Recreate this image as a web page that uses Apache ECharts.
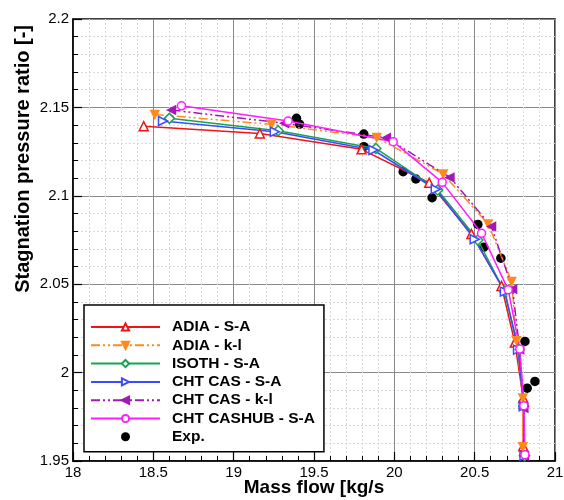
<!DOCTYPE html>
<html><head><meta charset="utf-8">
<script src="https://cdn.jsdelivr.net/npm/echarts@6/dist/echarts.min.js"></script>
<style>html,body{margin:0;padding:0;background:#fff}#c{width:564px;height:500px}</style>
</head><body><div id="c"></div>
<script>
// ---- data ----
const seriesNames = ['ADIA - S-A','ADIA - k-l','ISOTH - S-A','CHT CAS - S-A','CHT CAS - k-l','CHT CASHUB - S-A','Exp.'];
const adiaSA_m = [18.44, 19.163, 19.796, 20.217, 20.48, 20.667, 20.75, 20.802, 20.802];
const adiaSA_p = [2.1394, 2.1353, 2.1263, 2.1074, 2.0784, 2.049, 2.017, 1.9856, 1.9583];
const adiaKL_m = [18.509, 19.235, 19.89, 20.304, 20.584, 20.73, 20.76, 20.80, 20.80];
const adiaKL_p = [2.146, 2.1404, 2.133, 2.1123, 2.0841, 2.0515, 2.018, 1.9856, 1.958];
const isothSA_m = [18.60, 19.277, 19.885, 20.27, 20.52, 20.685, 20.775, 20.805, 20.81];
const isothSA_p = [2.1438, 2.1368, 2.1268, 2.1033, 2.075, 2.046, 2.013, 1.981, 1.953];
const chtSA_m = [18.56, 19.256, 19.87, 20.258, 20.50, 20.688, 20.77, 20.805, 20.81];
const chtSA_p = [2.1423, 2.1362, 2.1259, 2.1037, 2.0754, 2.0458, 2.013, 1.981, 1.953];
const chtKL_m = [18.613, 19.317, 19.95, 20.346, 20.605, 20.736, 20.78, 20.806, 20.81];
const chtKL_p = [2.1485, 2.141, 2.1328, 2.1104, 2.0826, 2.0472, 2.013, 1.980, 1.953];
const chtHubSA_m = [18.675, 19.339, 19.993, 20.298, 20.543, 20.709, 20.781, 20.806, 20.813];
const chtHubSA_p = [2.1509, 2.1423, 2.1306, 2.1076, 2.0788, 2.0468, 2.0133, 1.9812, 1.9536];
const exp_m = [19.391, 19.41, 19.81, 19.81, 20.055, 20.134, 20.235, 20.52, 20.557, 20.663, 20.813, 20.827, 20.875];
const exp_p = [2.1438, 2.1405, 2.1349, 2.1278, 2.1136, 2.1095, 2.0989, 2.0838, 2.0709, 2.0647, 2.0176, 1.9912, 1.995];
const xTicks = [18, 18.5, 19, 19.5, 20, 20.5, 21];
const yTicks = [1.95, 2, 2.05, 2.1, 2.15, 2.2];

const zip = (a, b) => a.map((v, i) => [v, b[i]]);
const FONT = '"Liberation Sans", Arial, sans-serif';
const dashDotDot = [9, 3, 2, 3, 2, 3];

function lineSeries(name, m, p, color, symbol, rotate, filled, dashed, size) {
  return {
    name, type: 'line', data: zip(m, p),
    symbol, symbolRotate: rotate, symbolSize: size,
    lineStyle: { color, width: 1.5, type: dashed ? dashDotDot : 'solid' },
    itemStyle: { color: filled ? color : '#fff', borderColor: color, borderWidth: 1.5 },
    emphasis: { disabled: true }, animation: false
  };
}

const chart = echarts.init(document.getElementById('c'), null, { renderer: 'canvas' });
chart.setOption({
  animation: false,
  grid: { left: 73, right: 9, top: 19, bottom: 39, containLabel: false, outerBoundsMode: 'none',
          show: true, borderColor: '#000', borderWidth: 1.5, backgroundColor: 'transparent' },
  xAxis: {
    type: 'value', min: xTicks[0], max: xTicks[xTicks.length - 1], interval: 0.5,
    name: 'Mass flow [kg/s', nameLocation: 'middle', nameGap: 17, nameMoveOverlap: false,
    nameTextStyle: { fontFamily: FONT, fontWeight: 'bold', fontSize: 19, color: '#000' },
    axisLine: { show: true, lineStyle: { color: '#000', width: 1.5 } },
    axisTick: { show: true, inside: true, length: 9, lineStyle: { color: '#000', width: 1.2 } },
    minorTick: { show: true, splitNumber: 5, length: 5, lineStyle: { color: '#000', width: 1 } },
    axisLabel: { fontFamily: FONT, fontSize: 15, color: '#000', margin: 4 },
    splitLine: { show: true, lineStyle: { color: '#8a8a8a', width: 1 } },
    minorSplitLine: { show: true, lineStyle: { color: '#d8d8d8', width: 1, type: [2, 2] } }
  },
  yAxis: {
    type: 'value', min: yTicks[0], max: yTicks[yTicks.length - 1], interval: 0.05,
    axisLine: { show: true, lineStyle: { color: '#000', width: 1.5 } },
    axisTick: { show: true, inside: true, length: 9, lineStyle: { color: '#000', width: 1.2 } },
    minorTick: { show: true, splitNumber: 5, length: 5, lineStyle: { color: '#000', width: 1 } },
    axisLabel: { fontFamily: FONT, fontSize: 15, color: '#000', margin: 4, padding: [6, 0, 0, 0] },
    splitLine: { show: true, lineStyle: { color: '#8a8a8a', width: 1 } },
    minorSplitLine: { show: true, lineStyle: { color: '#d8d8d8', width: 1, type: [2, 2] } }
  },
  graphic: [{
    type: 'text', left: 13, top: 25, rotation: Math.PI / 2,
    style: { text: 'Stagnation pressure ratio [-]', fontFamily: FONT, fontWeight: 'bold', fontSize: 20, fill: '#000' }
  }],
  legend: {
    orient: 'vertical', left: 84, top: 305,
    data: seriesNames,
    itemWidth: 69, itemHeight: 9, itemGap: 2.3,
    padding: [14, 9, 7, 6],
    backgroundColor: '#fff', borderColor: '#000', borderWidth: 1.5,
    textStyle: { fontFamily: FONT, fontWeight: 'bold', fontSize: 15.5, color: '#000', lineHeight: 16, padding: [0, 0, 0, 7] },
    selectedMode: false
  },
  series: [
    lineSeries(seriesNames[0], adiaSA_m, adiaSA_p, '#ee1515', 'triangle', 0, false, false, 9),
    lineSeries(seriesNames[1], adiaKL_m, adiaKL_p, '#ff8a1c', 'triangle', 180, true, true, 8),
    lineSeries(seriesNames[2], isothSA_m, isothSA_p, '#17a352', 'diamond', 0, false, false, 10),
    lineSeries(seriesNames[3], chtSA_m, chtSA_p, '#3a4cff', 'triangle', -90, false, false, 9),
    lineSeries(seriesNames[4], chtKL_m, chtKL_p, '#a318b8', 'triangle', 90, true, true, 8),
    lineSeries(seriesNames[5], chtHubSA_m, chtHubSA_p, '#ff1cff', 'circle', 0, false, false, 8),
    {
      name: seriesNames[6], type: 'scatter', data: zip(exp_m, exp_p),
      symbol: 'circle', symbolSize: 9.5, itemStyle: { color: '#000', opacity: 1 },
      emphasis: { disabled: true }, animation: false
    }
  ]
});
</script></body></html>
